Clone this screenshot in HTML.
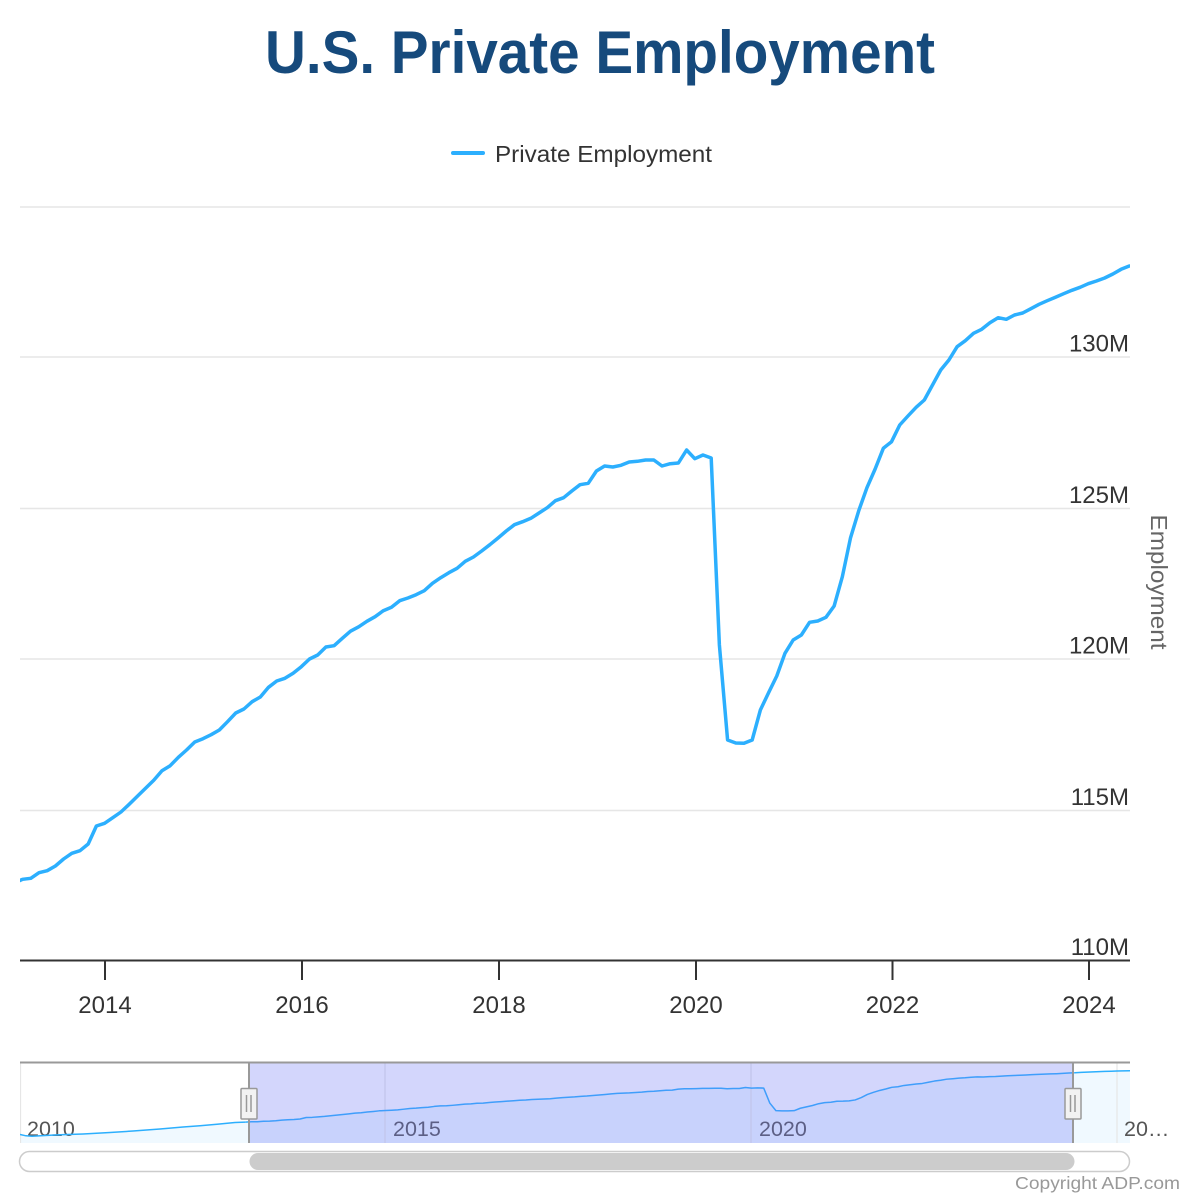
<!DOCTYPE html>
<html>
<head>
<meta charset="utf-8">
<style>
  html,body{margin:0;padding:0;background:#fff;}
  svg{display:block;}
  text{font-family:"Liberation Sans", Arial, sans-serif;}
</style>
</head>
<body>
<svg width="1200" height="1200" viewBox="0 0 1200 1200" xmlns="http://www.w3.org/2000/svg">
  <defs>
    <clipPath id="plot"><rect x="20" y="195" width="1110" height="770"/></clipPath>
    <clipPath id="nav"><rect x="20" y="1062" width="1110" height="81"/></clipPath>
  </defs>
  <rect width="1200" height="1200" fill="#fff"/>

  <!-- Title -->
  <text x="600" y="73" text-anchor="middle" font-size="60" font-weight="bold" fill="#164a7c" textLength="670" lengthAdjust="spacingAndGlyphs">U.S. Private Employment</text>

  <!-- Legend -->
  <line x1="453" y1="153" x2="483" y2="153" stroke="#2caffe" stroke-width="4" stroke-linecap="round"/>
  <text x="495" y="162" font-size="23" fill="#333" textLength="217" lengthAdjust="spacingAndGlyphs">Private Employment</text>

  <!-- Gridlines -->
  <g stroke="#e6e6e6" stroke-width="1.5">
    <line x1="20" y1="207" x2="1130" y2="207"/>
    <line x1="20" y1="357" x2="1130" y2="357"/>
    <line x1="20" y1="508.5" x2="1130" y2="508.5"/>
    <line x1="20" y1="659" x2="1130" y2="659"/>
    <line x1="20" y1="810.5" x2="1130" y2="810.5"/>
  </g>

  <!-- Y labels -->
  <g font-size="24" fill="#333" text-anchor="end">
    <text x="1129" y="351.5">130M</text>
    <text x="1129" y="503">125M</text>
    <text x="1129" y="653.5">120M</text>
    <text x="1129" y="805">115M</text>
    <text x="1129" y="955">110M</text>
  </g>

  <!-- Y axis title -->
  <text x="0" y="0" transform="translate(1151,582) rotate(90)" text-anchor="middle" font-size="23" fill="#666" textLength="135" lengthAdjust="spacingAndGlyphs">Employment</text>

  <!-- X axis -->
  <line x1="20" y1="960.5" x2="1130" y2="960.5" stroke="#333" stroke-width="2"/>
  <g stroke="#333" stroke-width="2">
    <line x1="105" y1="960" x2="105" y2="980"/>
    <line x1="302" y1="960" x2="302" y2="980"/>
    <line x1="499" y1="960" x2="499" y2="980"/>
    <line x1="696" y1="960" x2="696" y2="980"/>
    <line x1="892.5" y1="960" x2="892.5" y2="980"/>
    <line x1="1089" y1="960" x2="1089" y2="980"/>
  </g>
  <g font-size="24" fill="#333" text-anchor="middle">
    <text x="105" y="1013">2014</text>
    <text x="302" y="1013">2016</text>
    <text x="499" y="1013">2018</text>
    <text x="696" y="1013">2020</text>
    <text x="892.5" y="1013">2022</text>
    <text x="1089" y="1013">2024</text>
  </g>

  <!-- Main series -->
  <g clip-path="url(#plot)">
    <polyline transform="translate(22.6,0) scale(8.1975,1)" vector-effect="non-scaling-stroke" fill="none" stroke="#2caffe" stroke-width="3.5" stroke-linejoin="round" stroke-linecap="round"
      points="-1,883 0,879.3 1,878.3 2,872.7 3,870.7 4,866 5,859 6,853.3 7,850.7 8,844 9,826 10,823.3 11,817.7 12,812 13,804.3 14,796.3 15,788.3 16,780.3 17,770.7 18,765.7 19,757.3 20,750 21,742 22,738.7 23,734.7 24,730 25,721.7 26,713 27,709 28,701.7 29,697 30,687.3 31,681 32,678.3 33,673.3 34,666.7 35,659 36,655 37,647 38,645.7 39,638.3 40,631.2 41,626.8 42,621.3 43,616.7 44,610.7 45,607.3 46,600.7 47,598 48,594.7 49,590.7 50,583.3 51,577.7 52,572.7 53,568.3 54,561.3 55,557 56,551 57,544.7 58,538 59,531 60,524.7 61,521.7 62,518.3 63,513 64,507.7 65,500.7 66,497.7 67,491 68,484.7 69,483.3 70,471 71,466 72,467 73,465.3 74,462 75,461.3 76,460 77,460 78,466 79,463.7 80,463 81,450 82,458.7 83,455 84,458 85,645 86,740 87,743 88,743.3 89,740 90,710 91,692.7 92,676 93,653.3 94,640 95,635 96,622.3 97,621 98,617.3 99,606 100,576.7 101,537.7 102,510.7 103,487.7 104,469 105,448.3 106,441.7 107,425 108,416 109,407.3 110,400 111,385 112,370 113,360 114,346.7 115,340.7 116,333.3 117,329.3 118,322.7 119,317.7 120,319.3 121,315 122,313 123,308.7 124,304.3 125,300.7 126,297.3 127,293.7 128,290.3 129,287.3 130,283.7 131,281 132,278 133,274 134,269.3 135,266"/>
  </g>

  <!-- Navigator -->
  <g clip-path="url(#nav)">
    <rect x="20" y="1062" width="1110" height="81" fill="#fff"/>
    <!-- area fills -->
    <polygon fill="#2caffe" fill-opacity="0.07"
      points="20,1134.5 26,1135.8 32,1136.2 45,1135.5 60,1134.8 83,1134 110,1132.5 133,1131 160,1129 183,1127 200,1125.8 217,1124.3 235,1122.5 245.2,1122.1 245.2,1144 20,1144"/>
    <polygon transform="translate(251.3,1051.45) scale(6.1,0.08)" fill="#2caffe" fill-opacity="0.07"
      points="-1,883 0,879.3 1,878.3 2,872.7 3,870.7 4,866 5,859 6,853.3 7,850.7 8,844 9,826 10,823.3 11,817.7 12,812 13,804.3 14,796.3 15,788.3 16,780.3 17,770.7 18,765.7 19,757.3 20,750 21,742 22,738.7 23,734.7 24,730 25,721.7 26,713 27,709 28,701.7 29,697 30,687.3 31,681 32,678.3 33,673.3 34,666.7 35,659 36,655 37,647 38,645.7 39,638.3 40,631.2 41,626.8 42,621.3 43,616.7 44,610.7 45,607.3 46,600.7 47,598 48,594.7 49,590.7 50,583.3 51,577.7 52,572.7 53,568.3 54,561.3 55,557 56,551 57,544.7 58,538 59,531 60,524.7 61,521.7 62,518.3 63,513 64,507.7 65,500.7 66,497.7 67,491 68,484.7 69,483.3 70,471 71,466 72,467 73,465.3 74,462 75,461.3 76,460 77,460 78,466 79,463.7 80,463 81,450 82,458.7 83,455 84,458 85,645 86,740 87,743 88,743.3 89,740 90,710 91,692.7 92,676 93,653.3 94,640 95,635 96,622.3 97,621 98,617.3 99,606 100,576.7 101,537.7 102,510.7 103,487.7 104,469 105,448.3 106,441.7 107,425 108,416 109,407.3 110,400 111,385 112,370 113,360 114,346.7 115,340.7 116,333.3 117,329.3 118,322.7 119,317.7 120,319.3 121,315 122,313 123,308.7 124,304.3 125,300.7 126,297.3 127,293.7 128,290.3 129,287.3 130,283.7 131,281 132,278 133,274 134,269.3 135,266 135,1150 -1,1150"/>
    <polygon fill="#2caffe" fill-opacity="0.07"
      points="1074.8,1072.7 1081,1072.4 1087,1072.1 1093,1071.9 1099,1071.6 1105,1071.4 1111,1071.2 1117,1071 1123,1070.9 1130,1070.7 1130,1144 1074.8,1144"/>
    <!-- gridlines -->
    <g stroke="#e6e6e6" stroke-width="1.2">
      <line x1="20.5" y1="1062" x2="20.5" y2="1143"/>
      <line x1="385" y1="1062" x2="385" y2="1143"/>
      <line x1="751" y1="1062" x2="751" y2="1143"/>
      <line x1="1117" y1="1062" x2="1117" y2="1143"/>
    </g>
    <!-- nav labels inside -->
    <g font-size="21.5" fill="#555">
      <text x="27" y="1136">2010</text>
      <text x="393" y="1136">2015</text>
      <text x="759" y="1136">2020</text>
    </g>
    <!-- nav line -->
    <polyline fill="none" stroke="#2caffe" stroke-width="1.5" stroke-linejoin="round"
      points="20,1134.5 26,1135.8 32,1136.2 45,1135.5 60,1134.8 83,1134 110,1132.5 133,1131 160,1129 183,1127 200,1125.8 217,1124.3 235,1122.5 245.2,1122.1"/>
    <polyline transform="translate(251.3,1051.45) scale(6.1,0.08)" vector-effect="non-scaling-stroke" fill="none" stroke="#2caffe" stroke-width="1.5" stroke-linejoin="round"
      points="-1,883 0,879.3 1,878.3 2,872.7 3,870.7 4,866 5,859 6,853.3 7,850.7 8,844 9,826 10,823.3 11,817.7 12,812 13,804.3 14,796.3 15,788.3 16,780.3 17,770.7 18,765.7 19,757.3 20,750 21,742 22,738.7 23,734.7 24,730 25,721.7 26,713 27,709 28,701.7 29,697 30,687.3 31,681 32,678.3 33,673.3 34,666.7 35,659 36,655 37,647 38,645.7 39,638.3 40,631.2 41,626.8 42,621.3 43,616.7 44,610.7 45,607.3 46,600.7 47,598 48,594.7 49,590.7 50,583.3 51,577.7 52,572.7 53,568.3 54,561.3 55,557 56,551 57,544.7 58,538 59,531 60,524.7 61,521.7 62,518.3 63,513 64,507.7 65,500.7 66,497.7 67,491 68,484.7 69,483.3 70,471 71,466 72,467 73,465.3 74,462 75,461.3 76,460 77,460 78,466 79,463.7 80,463 81,450 82,458.7 83,455 84,458 85,645 86,740 87,743 88,743.3 89,740 90,710 91,692.7 92,676 93,653.3 94,640 95,635 96,622.3 97,621 98,617.3 99,606 100,576.7 101,537.7 102,510.7 103,487.7 104,469 105,448.3 106,441.7 107,425 108,416 109,407.3 110,400 111,385 112,370 113,360 114,346.7 115,340.7 116,333.3 117,329.3 118,322.7 119,317.7 120,319.3 121,315 122,313 123,308.7 124,304.3 125,300.7 126,297.3 127,293.7 128,290.3 129,287.3 130,283.7 131,281 132,278 133,274 134,269.3 135,266"/>
    <polyline fill="none" stroke="#2caffe" stroke-width="1.5" stroke-linejoin="round"
      points="1074.8,1072.7 1081,1072.4 1087,1072.1 1093,1071.9 1099,1071.6 1105,1071.4 1111,1071.2 1117,1071 1123,1070.9 1130,1070.7"/>
    <!-- mask -->
    <rect x="249" y="1062" width="824" height="81" fill="rgba(110,118,245,0.3)"/>
  </g>
  <!-- overflow label -->
  <text x="1124" y="1136" font-size="21.5" fill="#555">20…</text>
  <!-- nav outline -->
  <line x1="20" y1="1062.5" x2="1130" y2="1062.5" stroke="#999" stroke-width="2"/>
  <line x1="249" y1="1062" x2="249" y2="1143" stroke="#999" stroke-width="2"/>
  <line x1="1073" y1="1062" x2="1073" y2="1143" stroke="#999" stroke-width="2"/>
  <!-- handles -->
  <g stroke="#999" stroke-width="1.5">
    <rect x="241" y="1088.5" width="16" height="30.5" rx="1" fill="#f2f2f2"/>
    <line x1="246.5" y1="1095" x2="246.5" y2="1112"/>
    <line x1="251" y1="1095" x2="251" y2="1112"/>
    <rect x="1065" y="1088.5" width="16" height="30.5" rx="1" fill="#f2f2f2"/>
    <line x1="1070.5" y1="1095" x2="1070.5" y2="1112"/>
    <line x1="1075" y1="1095" x2="1075" y2="1112"/>
  </g>

  <!-- Scrollbar -->
  <rect x="19.5" y="1151.5" width="1110" height="20" rx="10" fill="#fff" stroke="#cccccc" stroke-width="1.5"/>
  <rect x="249.5" y="1153" width="825" height="17" rx="8.5" fill="#cccccc"/>

  <!-- Credits -->
  <text x="1180" y="1189" text-anchor="end" font-size="17.5" fill="#999" textLength="165" lengthAdjust="spacingAndGlyphs">Copyright ADP.com</text>
</svg>
</body>
</html>
